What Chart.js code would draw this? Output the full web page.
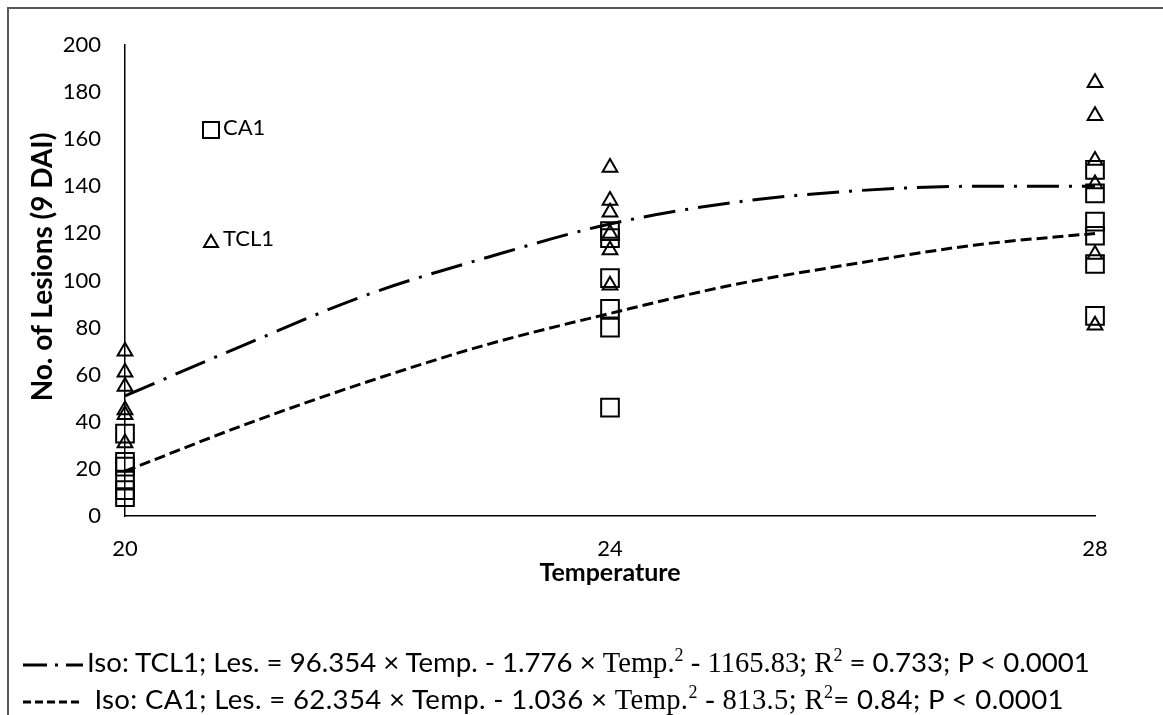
<!DOCTYPE html>
<html><head><meta charset="utf-8">
<script src="https://cdn.jsdelivr.net/npm/chart.js@4"></script>
<style>
html,body{margin:0;padding:0;background:#fff;}
#wrap{position:relative;width:1163px;height:715px;overflow:hidden;background:#fff;}
#frame{position:absolute;left:7px;top:7px;width:2000px;height:2000px;border-top:2px solid #595959;border-left:2px solid #595959;box-sizing:border-box;pointer-events:none;}
#c{position:absolute;left:0;top:0;}
.leg{position:absolute;font-family:Lato,'Open Sans',sans-serif;font-size:27.6px;color:#000;white-space:nowrap;line-height:1;}
.leg svg{vertical-align:middle;margin-right:3px;}
.serif{font-family:'Liberation Serif','DejaVu Serif',serif;font-size:28.6px;}
.leg sup{font-size:18px;}
.lab{position:absolute;font-family:Lato,'Open Sans',sans-serif;font-size:22px;color:#000;white-space:nowrap;line-height:1;}
.lab svg{vertical-align:middle;margin-right:3px;}
#ytitle{position:absolute;font-family:Lato,'Open Sans',sans-serif;font-weight:bold;font-size:28px;color:#000;white-space:nowrap;line-height:1;transform:translate(-50%,-50%) rotate(-90deg);}
</style>
</head><body>
<div id="wrap">
<canvas id="c" width="1163" height="715"></canvas>
<div id="frame"></div>
<div id="ytitle">No. of Lesions (9 DAI)</div>
<div class="lab" id="labCA1"><svg width="18" height="18"><rect x="1" y="1" width="16" height="16" fill="none" stroke="#000" stroke-width="2"/></svg>CA1</div>
<div class="lab" id="labTCL1"><svg width="18" height="16"><polygon points="9,2 16,14 2,14" fill="none" stroke="#000" stroke-width="2"/></svg>TCL1</div>
<div class="leg" id="leg1"><svg width="62" height="10"><line x1="1" y1="5" x2="61" y2="5" stroke="#000" stroke-width="3" stroke-dasharray="24,8,3,8,23"/></svg>Iso: TCL1; Les. = 96.354 × Temp. - 1.776 × <span class="serif">Temp.<sup>2</sup> - 1165.83; R<sup>2</sup></span> = 0.733; P &lt; 0.0001</div>
<div class="leg" id="leg2" style="letter-spacing:0.35px"><svg width="62" height="10"><line x1="1" y1="5" x2="61" y2="5" stroke="#000" stroke-width="3" stroke-dasharray="8,4"/></svg>&nbsp;Iso: CA1; Les. = 62.354 × Temp. - 1.036 × <span class="serif">Temp.<sup>2</sup> - 813.5; R<sup>2</sup></span>= 0.84; P &lt; 0.0001</div>
</div>
<script>
// ---- data ----
const tickTemps = [20, 24, 28];
const yTickValues = [0, 20, 40, 60, 80, 100, 120, 140, 160, 180, 200];

const tcl1At20 = [70, 61, 55, 45, 43, 31];
const tcl1At24 = [148, 134, 129, 120, 113, 98];
const tcl1At28 = [184, 170, 151, 141, 111, 81];

const ca1At20 = [35, 23, 21, 15, 11, 8];
const ca1At24 = [121, 118, 101, 88, 80, 46];
const ca1At28 = [147, 137, 125, 119, 107, 85];

const fitTemps = [20, 21, 22, 23, 24, 25, 26, 27, 28];
const tcl1Fit = [51, 73, 94, 110, 124, 133, 138, 140, 140];
const ca1Fit = [19, 39, 57, 73, 86, 98, 107, 115, 120];

function pts(temp, vals){ return vals.map(v => ({x: temp, y: v})); }
const tcl1Points = [].concat(pts(tickTemps[0], tcl1At20), pts(tickTemps[1], tcl1At24), pts(tickTemps[2], tcl1At28));
const ca1Points = [].concat(pts(tickTemps[0], ca1At20), pts(tickTemps[1], ca1At24), pts(tickTemps[2], ca1At28));
const tcl1Line = fitTemps.map((t, i) => ({x: t, y: tcl1Fit[i]}));
const ca1Line = fitTemps.map((t, i) => ({x: t, y: ca1Fit[i]}));

const FONT = "Lato, 'Open Sans', sans-serif";
const PAD_LEFT = 24;
const AXIS_LEFT = 125, AXIS_RIGHT = 1095, AXIS_TOP = 45, AXIS_BOTTOM = 516, X_AXIS_H = 72;

const chart = new Chart(document.getElementById('c'), {
  type: 'scatter',
  data: {
    datasets: [
      {label: 'TCL1 fit', type: 'line', data: tcl1Line, borderColor: '#000', borderWidth: 3,
       borderDash: [32, 10, 3, 10], pointRadius: 0, fill: false, tension: 0.4, cubicInterpolationMode: 'monotone', clip: false},
      {label: 'CA1 fit', type: 'line', data: ca1Line, borderColor: '#000', borderWidth: 3,
       borderDash: [11, 5], pointRadius: 0, fill: false, tension: 0.4, cubicInterpolationMode: 'monotone', clip: false},
      {label: 'CA1', data: ca1Points, pointStyle: 'rect', pointRadius: 12.5, borderWidth: 2,
       borderColor: '#000', backgroundColor: 'rgba(0,0,0,0)', clip: false},
      {label: 'TCL1', data: tcl1Points, pointStyle: 'triangle', pointRadius: 8.5, borderWidth: 2,
       borderColor: '#000', backgroundColor: 'rgba(0,0,0,0)', clip: false}
    ]
  },
  options: {
    responsive: false, animation: false, events: [],
    layout: {padding: {top: AXIS_TOP, right: 1163 - AXIS_RIGHT, bottom: 715 - AXIS_BOTTOM - X_AXIS_H, left: PAD_LEFT}},
    plugins: {legend: {display: false}, tooltip: {enabled: false}},
    scales: {
      x: {type: 'linear', min: 20, max: 28,
          afterBuildTicks: s => { s.ticks = tickTemps.map(v => ({value: v})); },
          ticks: {font: {family: FONT, size: 22}, color: '#000', padding: 20},
          grid: {display: false, drawTicks: false},
          border: {display: true, color: '#000', width: 1.5},
          title: {display: true, text: 'Temperature', font: {family: FONT, size: 25, weight: 'bold'}, color: '#000', padding: {top: 0, bottom: 0}},
          afterFit: s => { s.height = X_AXIS_H; }},
      y: {type: 'linear', min: 0, max: 200,
          afterBuildTicks: s => { s.ticks = yTickValues.map(v => ({value: v})); },
          ticks: {font: {family: FONT, size: 22}, color: '#000', padding: 24},
          grid: {display: false, drawTicks: false},
          border: {display: true, color: '#000', width: 1.5},
          title: {display: false},
          afterFit: s => { s.width = AXIS_LEFT - PAD_LEFT; }}
    }
  }
});

// place overlay labels relative to the chart area
const ca = chart.chartArea;
const yt = document.getElementById('ytitle');
yt.style.left = '41px'; yt.style.top = ((ca.top + ca.bottom) / 2 - 14) + 'px';
const lab1 = document.getElementById('labCA1');
lab1.style.left = (ca.left + 77) + 'px'; lab1.style.top = (chart.scales.y.getPixelForValue(165) - 11) + 'px';
const lab2 = document.getElementById('labTCL1');
lab2.style.left = (ca.left + 77) + 'px'; lab2.style.top = (chart.scales.y.getPixelForValue(118) - 11) + 'px';
const l1 = document.getElementById('leg1'); l1.style.left = '22px'; l1.style.top = '646px';
const l2 = document.getElementById('leg2'); l2.style.left = '22px'; l2.style.top = '683px';
</script>
</body></html>
